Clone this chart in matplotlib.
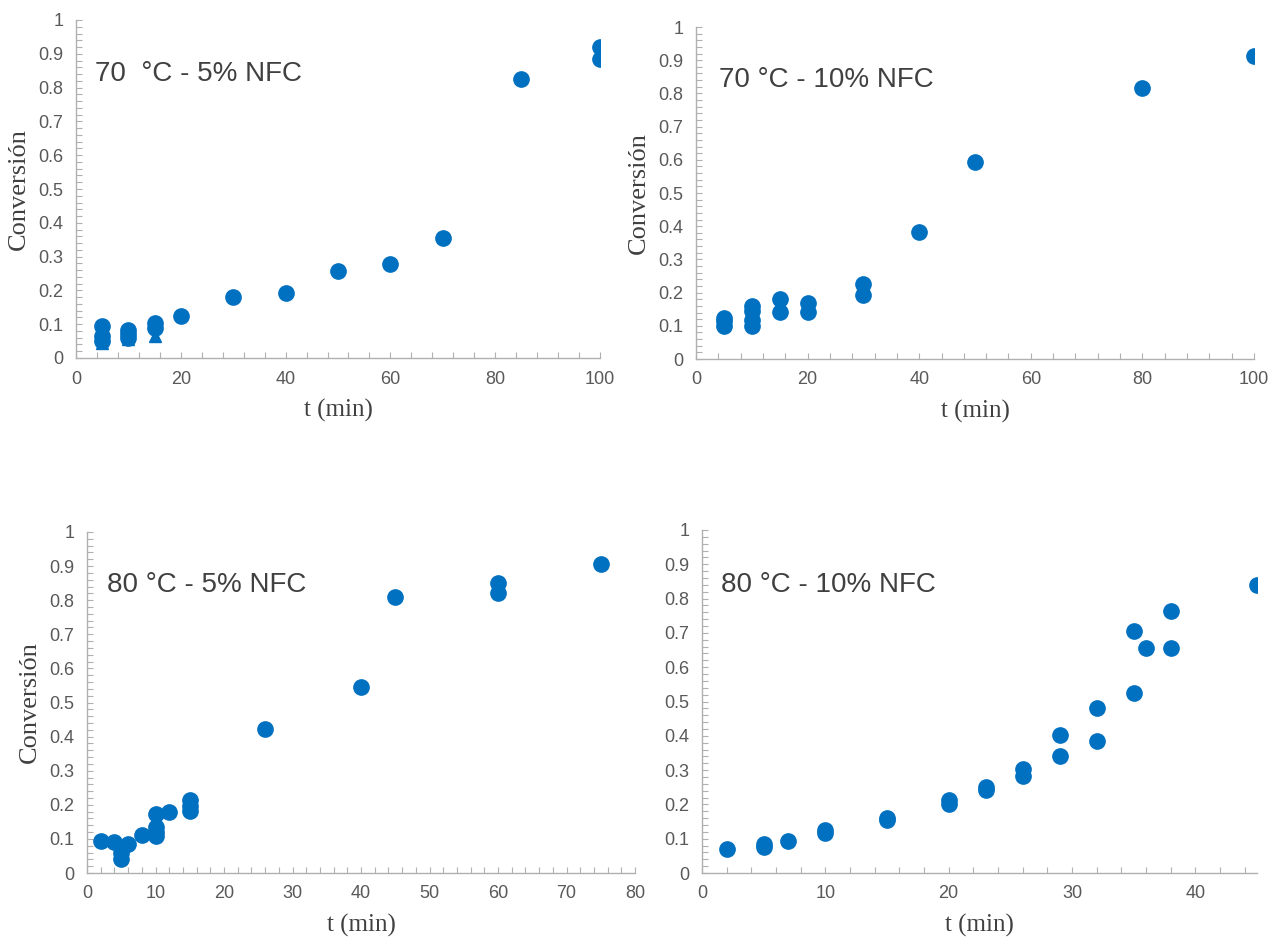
import numpy as np
import matplotlib.pyplot as plt
from matplotlib.ticker import MultipleLocator, FuncFormatter

# figure base features
plt.rcParams['font.family'] = ['Liberation Sans', 'DejaVu Sans']

blue = '#0070C0'
gray_txt = '#595959'
gray_ax = '#B0B0B0'

# 70 C - 5% NFC
t_70_5 = [5, 5, 5, 10, 10, 10, 15, 15, 20, 30, 40, 50, 60, 70, 85, 100, 100]
x_70_5 = [0.095, 0.065, 0.05, 0.083, 0.07, 0.06, 0.105, 0.09, 0.125, 0.18, 0.192, 0.257, 0.278, 0.355, 0.826, 0.92, 0.884]
tri_t_70_5 = [5, 10, 15]
tri_x_70_5 = [0.045, 0.055, 0.065]

# 70 C - 10% NFC
t_70_10 = [5, 5, 5, 10, 10, 10, 10, 15, 15, 20, 20, 30, 30, 40, 50, 80, 100]
x_70_10 = [0.123, 0.113, 0.1, 0.16, 0.144, 0.118, 0.1, 0.18, 0.142, 0.17, 0.142, 0.227, 0.194, 0.382, 0.594, 0.816, 0.914]

# 80 C - 5% NFC
t_80_5 = [2, 4, 5, 5, 5, 6, 8, 10, 10, 10, 10, 12, 15, 15, 15, 26, 40, 45, 60, 60, 75]
x_80_5 = [0.095, 0.092, 0.075, 0.06, 0.041, 0.085, 0.111, 0.173, 0.134, 0.119, 0.109, 0.18, 0.214, 0.197, 0.182,
          0.423, 0.546, 0.81, 0.851, 0.821, 0.905]
red_t_80_5 = [5.4, 10.7, 15.4]
red_x_80_5 = [0.053, 0.1, 0.172]

# 80 C - 10% NFC
t_80_10 = [2, 5, 5, 7, 10, 10, 15, 15, 20, 20, 23, 23, 26, 26, 29, 29, 32, 32, 35, 35, 36, 38, 38, 45]
x_80_10 = [0.069, 0.086, 0.076, 0.093, 0.125, 0.117, 0.16, 0.154, 0.214, 0.2, 0.251, 0.241, 0.302, 0.282,
           0.402, 0.34, 0.482, 0.385, 0.705, 0.526, 0.657, 0.764, 0.657, 0.84]

W, H = 1269, 942
fig = plt.figure(figsize=(W / 100, H / 100), dpi=100)


def make_ax(x0, x1, ytop, ybot):
    return fig.add_axes([x0 / W, 1 - ybot / H, (x1 - x0) / W, (ybot - ytop) / H])


def style(ax, xmax, xmaj, xmin, label, lx, ly, ylab=True):
    ax.set_xlim(0, xmax)
    ax.set_ylim(0, 1)
    ax.xaxis.set_major_locator(MultipleLocator(xmaj))
    ax.xaxis.set_minor_locator(MultipleLocator(xmin))
    ax.yaxis.set_major_locator(MultipleLocator(0.1))
    ax.yaxis.set_minor_locator(MultipleLocator(0.02))
    ax.yaxis.set_major_formatter(FuncFormatter(lambda v, p: '%g' % round(v, 2)))
    for s in ['top', 'right']:
        ax.spines[s].set_visible(False)
    for s in ['left', 'bottom']:
        ax.spines[s].set_color(gray_ax)
        ax.spines[s].set_linewidth(1.0)
    ax.tick_params(which='both', direction='in', color=gray_ax, length=4, width=0.8)
    ax.tick_params(which='major', labelsize=13, labelcolor=gray_txt, pad=9)
    ax.set_xlabel('t (min)', family='Liberation Serif', fontsize=18, color='#404040', labelpad=8)
    if ylab:
        ax.set_ylabel('Conversión', family='Liberation Serif', fontsize=19, color='#404040', labelpad=6)
    # condition label inside the panel
    ax.text(lx, ly, label, transform=ax.transAxes, fontsize=20, color='#404040', va='center')
    ax.set_facecolor('none')


ms = 11

ax1 = make_ax(76, 600, 20, 358)
ax1.plot(tri_t_70_5, tri_x_70_5, '^', color=blue, ms=9, ls='none')
ax1.plot(t_70_5, x_70_5, 'o', color=blue, ms=ms, ls='none')
style(ax1, 100, 20, 4, '70  °C - 5% NFC', 0.036, 0.84)

ax2 = make_ax(696, 1254, 27, 359)
ax2.plot(t_70_10, x_70_10, 'o', color=blue, ms=ms, ls='none')
style(ax2, 100, 20, 4, '70 °C - 10% NFC', 0.041, 0.84)

ax3 = make_ax(87, 635, 532, 873)
ax3.plot(red_t_80_5, red_x_80_5, 's', color='red', ms=2, ls='none')
ax3.plot(t_80_5, x_80_5, 'o', color=blue, ms=ms, ls='none')
style(ax3, 80, 10, 2, '80 °C - 5% NFC', 0.036, 0.845)

ax4 = make_ax(702, 1257, 530, 873)
ax4.plot(t_80_10, x_80_10, 'o', color=blue, ms=ms, ls='none')
style(ax4, 45, 10, 2, '80 °C - 10% NFC', 0.034, 0.84, ylab=False)

fig.savefig('out.png', dpi=100)
